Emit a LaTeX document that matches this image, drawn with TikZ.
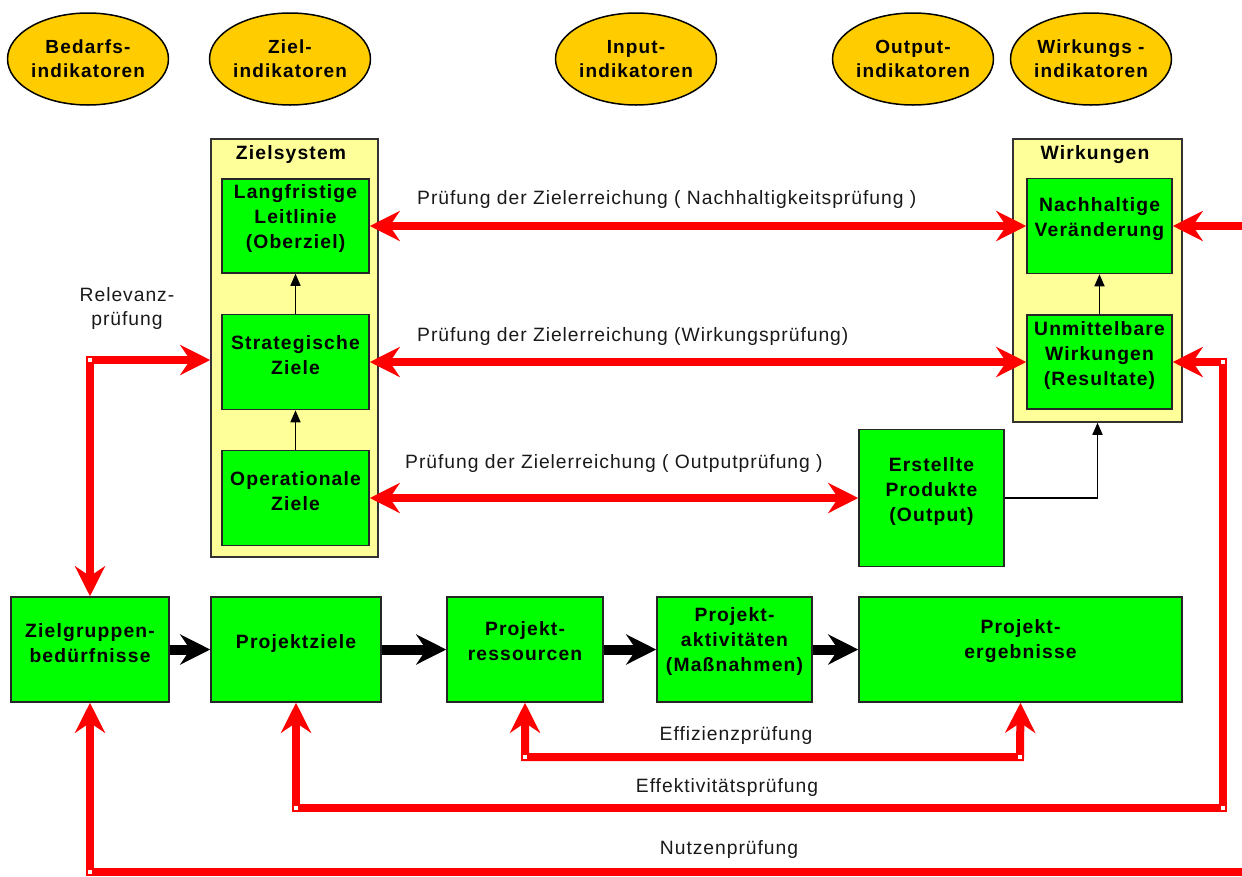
\documentclass[tikz,border=0pt]{standalone}
\usepackage{fontspec}
\setmainfont{Liberation Sans}[LetterSpace=5]
\newfontfamily\boldlab{Liberation Sans Bold}[LetterSpace=6]
\usetikzlibrary{shapes.geometric,arrows.meta}
\definecolor{boxgreen}{HTML}{00FF00}
\definecolor{sysyellow}{HTML}{FFFF99}
\definecolor{indorange}{HTML}{FFCC00}
\definecolor{checkred}{HTML}{FF0000}
\tikzset{
  indic/.style={ellipse, draw=black, line width=1.5pt, fill=indorange,
    minimum width=157pt, minimum height=92pt, inner sep=0pt,
    font=\boldlab\fontsize{19}{24}\selectfont, align=center},
  sysbox/.style={draw=black!80, line width=1.5pt, fill=sysyellow, inner sep=0pt},
  gbox/.style={draw=black!85, line width=1.5pt, fill=boxgreen, inner sep=0pt},
  btext/.style={font=\boldlab\fontsize{19.3}{25}\selectfont, align=center, inner sep=0pt},
  ltext/.style={font=\fontsize{19.3}{24}\selectfont, align=center, inner sep=0pt, text=black!90},
  redck/.style={draw=checkred, line width=8pt,
    arrows={Stealth[length=30pt, width=30pt, inset=10pt]-Stealth[length=30pt, width=30pt, inset=10pt]}},
  redone/.style={draw=checkred, line width=8pt,
    -{Stealth[length=30pt, width=30pt, inset=10pt]}},
  flow/.style={draw=black, line width=10pt,
    -{Stealth[length=30pt, width=30pt, inset=10pt]}},
  hier/.style={draw=black, line width=1.5pt, -{Triangle[length=12pt, width=10pt]}},
  dot/.style={fill=white, minimum size=3.5pt, inner sep=0pt},
}
\begin{document}
\begin{tikzpicture}[x=1pt, y=-1pt]
\useasboundingbox (0,0) rectangle (1242,876);

% indicator ellipses
\node[indic] (bed) at (88,59) {Bedarfs-\\indikatoren};
\node[indic] (zie) at (290,59) {Ziel-\\indikatoren};
\node[indic] (inp) at (636,59) {Input-\\indikatoren};
\node[indic] (out) at (913,59) {Output-\\indikatoren};
\node[indic] (wir) at (1091,59) {Wirkungs -\\indikatoren};

% goal system column
\node[sysbox, minimum width=167pt, minimum height=418pt] (zs) at (294.5,348) {};
\node[btext] (zs-t) at (291,155) {Zielsystem};
\node[gbox, minimum width=147pt, minimum height=94pt] (lang) at (295.5,226) {};
\node[gbox, minimum width=147pt, minimum height=95pt] (strat) at (295.5,362) {};
\node[gbox, minimum width=147pt, minimum height=95pt] (oper) at (295.5,498) {};
\node[btext] (lang-t) at ([yshift=7pt]lang.center) {Langfristige\\Leitlinie\\(Oberziel)};
\node[btext] (strat-t) at ([yshift=7pt]strat.center) {Strategische\\Ziele};
\node[btext] (oper-t) at ([yshift=7pt]oper.center) {Operationale\\Ziele};

% effects column
\node[sysbox, minimum width=169pt, minimum height=283pt] (wk) at (1097.5,280.5) {};
\node[btext] (wk-t) at (1095,155) {Wirkungen};
\node[gbox, minimum width=145pt, minimum height=95pt] (nach) at (1099.5,226) {};
\node[gbox, minimum width=145pt, minimum height=94pt] (unm) at (1099.5,362) {};
\node[btext] (nach-t) at ([yshift=7pt]nach.center) {Nachhaltige\\Veränderung};
\node[btext] (unm-t) at ([yshift=6pt]unm.center) {Unmittelbare\\Wirkungen\\(Resultate)};

% output box
\node[gbox, minimum width=145pt, minimum height=137pt] (erst) at (931.5,498) {};
\node[btext] (erst-t) at ([yshift=6pt]erst.center) {Erstellte\\Produkte\\(Output)};

% project chain
\node[gbox, minimum width=158pt, minimum height=105pt] (zg) at (90,649.5) {};
\node[gbox, minimum width=170pt, minimum height=105pt] (pz) at (296,649.5) {};
\node[gbox, minimum width=156pt, minimum height=105pt] (res) at (525,649.5) {};
\node[gbox, minimum width=155pt, minimum height=105pt] (akt) at (734.5,649.5) {};
\node[gbox, minimum width=323pt, minimum height=105pt] (erg) at (1020.5,649.5) {};
\node[btext] (zg-t) at ([yshift=6.5pt]zg.center) {Zielgruppen-\\bedürfnisse};
\node[btext] (pz-t) at ([yshift=6.5pt]pz.center) {Projektziele};
\node[btext] (res-t) at ([yshift=8pt]res.center) {Projekt-\\ressourcen};
\node[btext] (akt-t) at ([yshift=8pt]akt.center) {Projekt-\\aktivitäten\\(Maßnahmen)};
\node[btext] (erg-t) at ([yshift=8pt]erg.center) {Projekt-\\ergebnisse};

% hierarchy arrows
\draw[hier] (strat.north) -- (lang.south);
\draw[hier] (oper.north) -- (strat.south);
\draw[hier] (unm.north) -- (nach.south);
\draw[hier] (erst.east) -| (wk.south);

% project flow
\draw[flow] (zg.east) -- (pz.west);
\draw[flow] (pz.east) -- (res.west);
\draw[flow] (res.east) -- (akt.west);
\draw[flow] (akt.east) -- (erg.west);

% check loops
\coordinate (relc) at (90,360);
\coordinate (effzr) at (1020,757);
\coordinate (effkl) at (296,808);
\coordinate (effkr) at (1223,808);
\coordinate (nutzl) at (90,872);
\coordinate (nutzr) at (1260,872);
\coordinate (rightin) at (1260,226);

\draw[redck] (zg.north) -- (relc) -- (relc -| zs.west);
\draw[redck] (lang.east) -- (nach.west);
\draw[redck] (strat.east) -- (unm.west);
\draw[redck] (oper.east) -- (erst.west);
\draw[redone] (rightin) -- (nach.east);
\draw[redck] (pz.south) -- (effkl) -- (effkr) |- (unm.east);
\draw[redck] (res.south) |- (effzr) -- (erg.south);
\draw[redone] (nutzr) -- (nutzl) -- (zg.south);

% corner marks
\node[dot] (d1) at (relc) {};
\node[dot] (d2) at (res.south |- effzr) {};
\node[dot] (d3) at (effzr) {};
\node[dot] (d4) at (effkl) {};
\node[dot] (d5) at (effkr) {};
\node[dot] (d6) at (effkr |- unm.east) {};
\node[dot] (d7) at (nutzl) {};

% check labels
\node[ltext] (l-rel) at (127,309) {Relevanz-\\prüfung};
\node[ltext, anchor=west] (l-nach) at (417,200) {Prüfung der Zielerreichung ( Nachhaltigkeitsprüfung )};
\node[ltext, anchor=west] (l-wirk) at (417,337) {Prüfung der Zielerreichung (Wirkungsprüfung)};
\node[ltext, anchor=west] (l-out) at (405,464) {Prüfung der Zielerreichung ( Outputprüfung )};
\node[ltext] (l-effz) at (736,735) {Effizienzprüfung};
\node[ltext] (l-effk) at (727,787) {Effektivitätsprüfung};
\node[ltext] (l-nutz) at (729,850) {Nutzenprüfung};
\end{tikzpicture}
\end{document}
